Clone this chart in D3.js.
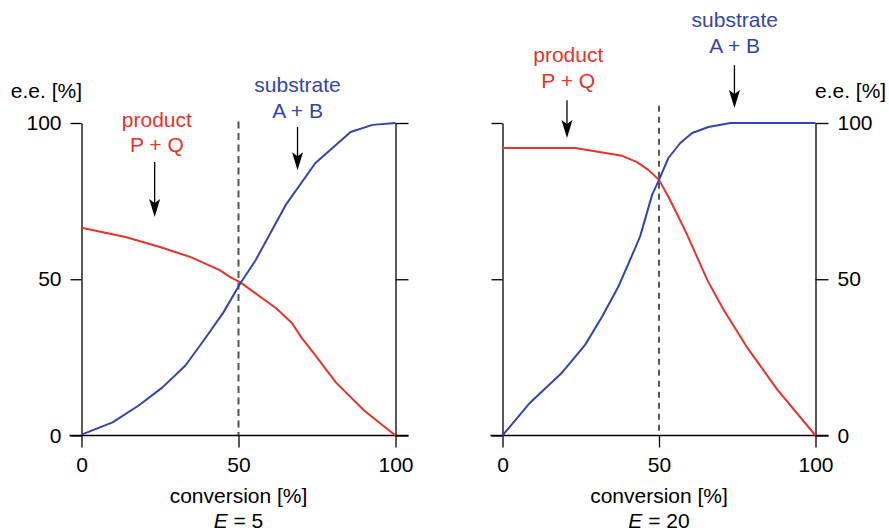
<!DOCTYPE html>
<html>
<head>
<meta charset="utf-8">
<script src="https://cdn.jsdelivr.net/npm/d3@7"></script>
<style>
    body { margin: 0; background: #fff; }
    svg text { font-family: "Liberation Sans", Arial, Helvetica, sans-serif; }
</style>
</head>
<body>
<div id="chart"></div>
<script>

// conversion [%] and e.e. [%]
const xTicks = [0, 50, 100]
const yTicks = [0, 50, 100]

// E = 5
const e5ProductConv = [0, 14, 25, 35, 44, 47.5, 50.6, 62, 67, 70, 74, 81, 90, 100]
const e5ProductEe = [66.5, 63.5, 60.3, 57, 52.9, 50.6, 49, 40.7, 36, 31.4, 26.3, 17, 8, 0]
const e5SubstrateConv = [0, 9.9, 18.2, 25.8, 33.1, 38.9, 45.2, 50.6, 55.4, 65, 74.5, 85.7, 92.7, 100]
const e5SubstrateEe = [0.3, 4.2, 9.6, 15.4, 22.4, 30.4, 39.4, 48.7, 56, 73.7, 87.2, 97.1, 99.4, 100]

// E = 20
const e20ProductConv = [0, 23.2, 38.2, 43, 46.6, 50, 53, 56.2, 59, 65.6, 70.6, 78.2, 87.8, 100]
const e20ProductEe = [92, 92, 89.5, 87.5, 85, 81.8, 76.4, 70, 64.2, 49.4, 40.3, 28.1, 14.7, 0]
const e20SubstrateConv = [0, 8.8, 19, 26.4, 31.8, 37, 41.8, 44, 47.8, 50, 53, 56.8, 60.6, 65.8, 72.8, 100]
const e20SubstrateEe = [0, 10.5, 20.1, 29, 38, 47.6, 58.6, 63.8, 77, 81.8, 88.8, 93.6, 96.8, 98.7, 100, 100]

const red = "#e8322b"
const blue = "#3346a6"
const fontSize = 21

const svgWidth = 889
const svgHeight = 531

const svg = d3.select('#chart')
    .append('svg')
    .attr("width", svgWidth)
    .attr("height", svgHeight)
    .attr("viewBox", `0 0 ${svgWidth} ${svgHeight}`)

const y = d3.scaleLinear()
    .domain([0, 100])
    .range([435.5, 123])

const zip = (cs, es) => cs.map((c, i) => ({ c: c, e: es[i] }))

function arrow(g, x, y1, y2) {
    g.append("line")
        .attr("x1", x).attr("x2", x)
        .attr("y1", y1).attr("y2", y2 - 12)
        .attr("stroke", "#000")
        .attr("stroke-width", 1.3)
    g.append("path")
        .attr("d", "M0,0 L-5.5,-18 L0,-14 L5.5,-18 Z")
        .attr("transform", `translate(${x},${y2})`)
        .attr("fill", "#000")
}

function label(g, x, yy, lines, color) {
    lines.forEach((t, i) => {
        g.append("text")
            .attr("x", x)
            .attr("y", yy[i])
            .attr("text-anchor", "middle")
            .attr("font-size", fontSize)
            .attr("fill", color)
            .text(t)
    })
}

function panel(opts) {

    const x = d3.scaleLinear()
        .domain([0, 100])
        .range(opts.range)

    const g = svg.append("g")

    // dashed line at 50 % conversion
    g.append("line")
        .attr("x1", x(50)).attr("x2", x(50))
        .attr("y1", y(opts.dashTop)).attr("y2", y(0))
        .attr("stroke", opts.dashColor)
        .attr("stroke-width", opts.dashWidth)
        .attr("stroke-dasharray", opts.dash)

    // X axis
    const xAxis = g.append("g")
        .attr("transform", `translate(0,${y(0)})`)
        .call(d3.axisBottom(x).tickValues(xTicks).tickSize(12).tickSizeOuter(0).tickPadding(10))
    xAxis.select(".domain").remove()

    g.append("line")
        .attr("x1", x(0) - 12).attr("x2", x(100) + 13)
        .attr("y1", y(0)).attr("y2", y(0))
        .attr("stroke", "#000")
        .attr("stroke-width", 1.3)

    // left & right Y axes
    g.append("g")
        .attr("transform", `translate(${x(0)},0)`)
        .call(d3.axisLeft(y).tickValues(yTicks).tickSize(11).tickSizeOuter(0).tickPadding(9)
            .tickFormat(opts.labels == "left" ? d3.format("d") : ""))

    g.append("g")
        .attr("transform", `translate(${x(100)},0)`)
        .call(d3.axisRight(y).tickValues(yTicks).tickSize(13).tickSizeOuter(0).tickPadding(9)
            .tickFormat(opts.labels == "right" ? d3.format("d") : ""))

    g.selectAll(".tick line, .domain")
        .attr("stroke", "#000")
        .attr("stroke-width", 1.3)

    g.selectAll(".tick text")
        .attr("font-size", fontSize)
        .attr("font-family", '"Liberation Sans", Arial, sans-serif')
        .attr("fill", "#000")

    // curves
    const line = d3.line()
        .x(d => x(d.c))
        .y(d => y(d.e))

    g.append("path")
        .attr("d", line(opts.product))
        .attr("fill", "none")
        .attr("stroke", red)
        .attr("stroke-width", 2)
        .attr("stroke-linejoin", "round")

    g.append("path")
        .attr("d", line(opts.substrate))
        .attr("fill", "none")
        .attr("stroke", blue)
        .attr("stroke-width", 2)
        .attr("stroke-linejoin", "round")

    // annotations
    const p = opts.prodNote
    label(g, x(p.cx), [y(p.e1), y(p.e2)], ["product", "P + Q"], red)
    arrow(g, x(p.ax), y(p.from), y(p.to))

    const s = opts.subNote
    label(g, x(s.cx), [y(s.e1), y(s.e2)], ["substrate", "A + B"], blue)
    arrow(g, x(s.ax), y(s.from), y(s.to))

    // axis titles
    g.append("text")
        .attr("x", opts.eeX)
        .attr("y", 98)
        .attr("text-anchor", opts.labels == "left" ? "end" : "start")
        .attr("font-size", fontSize)
        .text("e.e. [%]")

    g.append("text")
        .attr("x", x(50))
        .attr("y", 503)
        .attr("text-anchor", "middle")
        .attr("font-size", fontSize)
        .text("conversion [%]")

    const et = g.append("text")
        .attr("x", x(50))
        .attr("y", 528)
        .attr("text-anchor", "middle")
        .attr("font-size", fontSize)
    et.append("tspan").attr("font-style", "italic").text("E")
    et.append("tspan").text(" = " + opts.E)
}

panel({
    range: [81.5, 395.5],
    labels: "left",
    E: 5,
    dashTop: 100.5,
    dashColor: "#555",
    dashWidth: 2,
    dash: "7,4.5",
    eeX: 82,
    product: zip(e5ProductConv, e5ProductEe),
    substrate: zip(e5SubstrateConv, e5SubstrateEe),
    prodNote: { cx: 24, e1: 98.7, e2: 90.7, ax: 23.3, from: 87.5, to: 69.9 },
    subNote: { cx: 68.8, e1: 109.9, e2: 101.6, ax: 68.8, from: 98.7, to: 84.9 }
})

panel({
    range: [502.5, 815.5],
    labels: "right",
    E: 20,
    dashTop: 105.5,
    dashColor: "#111",
    dashWidth: 1.4,
    dash: "6,5",
    eeX: 815,
    product: zip(e20ProductConv, e20ProductEe),
    substrate: zip(e20SubstrateConv, e20SubstrateEe),
    prodNote: { cx: 21, e1: 119.5, e2: 111.2, ax: 20.6, from: 107.3, to: 95.2 },
    subNote: { cx: 74.2, e1: 130.7, e2: 122.4, ax: 74.1, from: 118.5, to: 104.8 }
})

</script>
</body>
</html>
